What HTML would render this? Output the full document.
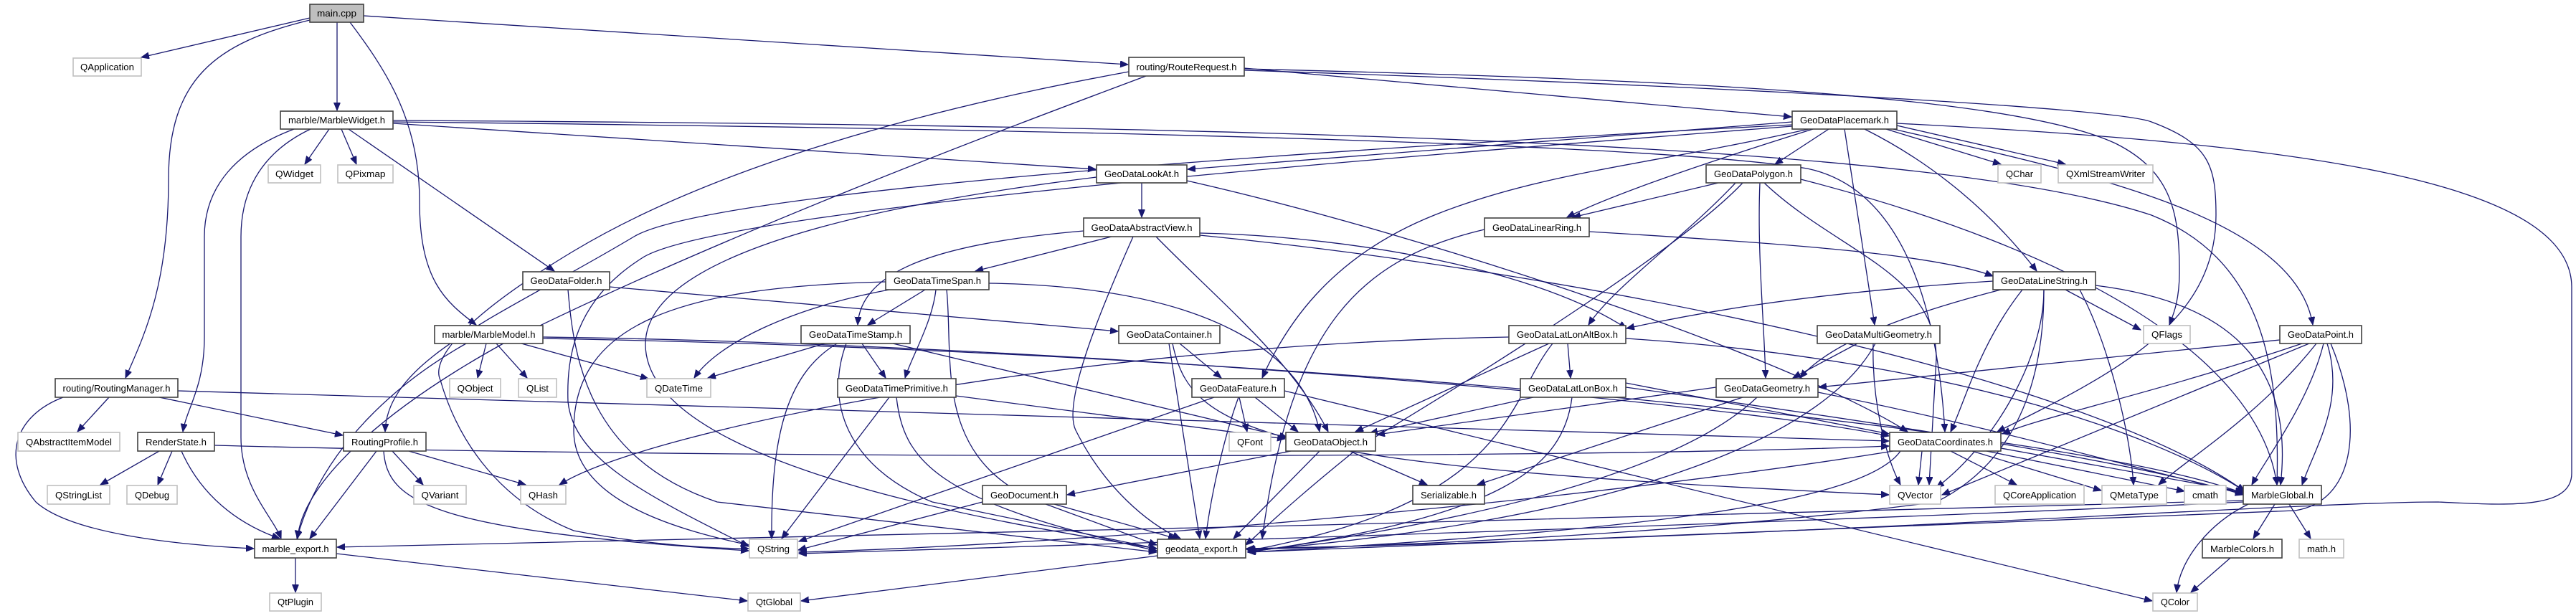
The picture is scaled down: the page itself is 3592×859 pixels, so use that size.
<!DOCTYPE html>
<html><head><meta charset="utf-8"><style>
html,body{margin:0;padding:0;background:#fff;}
svg{display:block;}
.e path{fill:none;stroke:#191970;stroke-width:1.3;}
.n rect{fill:#fff;stroke:#404040;stroke-width:1.6;}
.l rect{fill:#fff;stroke:#c0c0c0;stroke-width:1.6;}
text{font-family:"Liberation Sans",sans-serif;font-size:13px;fill:#000;text-anchor:middle;}
</style></head><body>
<svg width="3592" height="859" viewBox="0 0 3592 859" xmlns="http://www.w3.org/2000/svg">
<defs><marker id="a" markerUnits="userSpaceOnUse" markerWidth="12" markerHeight="10" refX="11" refY="4.5" orient="auto"><path d="M0,0 L11,4.5 L0,9 z" fill="#191970" stroke="#191970"/></marker></defs>
<g class="e" marker-end="url(#a)">
<path d="M432,25 L197,80"/>
<path d="M470,31 L470,154"/>
<path d="M507,22 L1573,90"/>
<path d="M432,28 C300,60 235,110 235,250 C235,400 200,470 175,527"/>
<path d="M488,31 C540,100 585,170 585,280 C585,390 620,420 664,453"/>
<path d="M459,180 L425,229"/>
<path d="M476,180 L497,229"/>
<path d="M486,180 L773,378"/>
<path d="M410,180 C330,210 285,260 285,330 L285,470 C285,540 260,570 255,602"/>
<path d="M433,180 C370,210 336,260 336,330 L336,610 C336,680 380,720 392,751"/>
<path d="M548,172 L1528,236"/>
<path d="M548,170 C1500,180 2300,200 2520,235 C2640,260 2700,400 2712,602"/>
<path d="M548,168 C1800,175 2700,200 3000,300 C3150,360 3180,500 3175,676"/>
<path d="M1735,95 L2498,163"/>
<path d="M1598,106 C1400,180 1000,330 700,480 C520,580 420,680 415,751"/>
<path d="M1574,100 C1300,150 1000,230 800,350 C650,440 600,500 614,530 C640,620 700,700 800,740 C900,760 1000,765 1044,765"/>
<path d="M1735,96 C2300,110 2800,130 2950,200 C3030,240 3039,300 3039,380 C3039,420 3030,440 3025,453"/>
<path d="M1735,98 C2400,120 2950,150 3000,170 C3080,200 3090,230 3090,300 C3090,450 2950,520 2785,602"/>
<path d="M2499,170 L1656,236"/>
<path d="M2550,180 L2475,229"/>
<path d="M2528,180 C2400,220 2250,270 2185,303"/>
<path d="M2396,255 L2193,303"/>
<path d="M2600,180 C2700,230 2780,300 2840,378"/>
<path d="M2572,180 L2614,453"/>
<path d="M2640,180 C2900,240 3200,300 3225,453"/>
<path d="M2630,180 L2790,229"/>
<path d="M2645,175 L2880,229"/>
<path d="M2522,180 C2300,230 2150,240 2000,300 C1850,360 1790,460 1760,527"/>
<path d="M2645,172 C3200,200 3585,250 3586,400 L3586,660 C3586,710 3500,705 3400,700 C3200,700 2500,750 1738,765"/>
<path d="M2499,174 C2000,200 1000,260 884,330 C700,440 540,500 537,602"/>
<path d="M2499,176 C2000,215 1000,290 895,360 C800,420 790,500 792,560 C800,640 900,690 1044,762"/>
<path d="M1592,255 L1592,303"/>
<path d="M1655,252 C2000,330 2500,500 2660,602"/>
<path d="M1529,247 C1100,300 900,380 900,480 C900,650 1400,730 1613,765"/>
<path d="M1550,330 L1360,378"/>
<path d="M1511,322 C1300,340 1200,380 1196,453"/>
<path d="M1612,330 C1700,420 1800,500 1852,602"/>
<path d="M1580,330 C1540,420 1480,560 1500,600 C1540,680 1600,730 1646,751"/>
<path d="M1673,325 C1900,330 2150,380 2268,458"/>
<path d="M1673,328 C2200,380 2900,520 3130,685"/>
<path d="M1290,404 L1210,453"/>
<path d="M1305,404 C1300,450 1270,500 1262,527"/>
<path d="M1240,404 C1100,430 1000,480 968,527"/>
<path d="M1379,395 C1700,400 1820,500 1840,602"/>
<path d="M1320,404 C1330,500 1300,640 1450,700 L1613,760"/>
<path d="M1235,393 C950,400 800,450 800,600 C800,700 950,740 1044,760"/>
<path d="M1150,479 L987,527"/>
<path d="M1202,479 L1235,527"/>
<path d="M1167,479 C1100,520 1075,600 1076,751"/>
<path d="M1180,479 C1150,560 1180,650 1300,700 L1613,765"/>
<path d="M1245,479 L1795,610"/>
<path d="M1240,554 L1090,751"/>
<path d="M1250,554 C1260,640 1300,700 1613,768"/>
<path d="M1333,552 L1792,612"/>
<path d="M678,479 L666,527"/>
<path d="M692,479 L735,527"/>
<path d="M727,479 L904,528"/>
<path d="M650,479 C560,530 450,620 414,751"/>
<path d="M757,470 C1500,480 2400,560 2634,608"/>
<path d="M757,472 C1800,490 2900,600 3128,688"/>
<path d="M152,554 L108,602"/>
<path d="M222,554 L478,607"/>
<path d="M88,554 C20,580 0,640 50,700 C100,745 250,760 354,765"/>
<path d="M248,545 L2634,615"/>
<path d="M222,629 L140,676"/>
<path d="M240,629 L220,676"/>
<path d="M253,629 C280,690 330,730 390,751"/>
<path d="M299,621 C1000,640 2200,640 2634,622"/>
<path d="M547,629 L590,676"/>
<path d="M570,629 L733,676"/>
<path d="M525,629 L432,751"/>
<path d="M535,629 C540,700 600,740 1044,768"/>
<path d="M850,400 L1559,462"/>
<path d="M792,404 C800,500 820,640 1000,700 L1613,770"/>
<path d="M1645,479 L1703,527"/>
<path d="M1630,479 L1673,751"/>
<path d="M1635,479 C1660,600 1750,650 2634,690"/>
<path d="M1728,554 L1739,602"/>
<path d="M1750,554 L1810,602"/>
<path d="M1727,554 C1710,600 1690,680 1681,751"/>
<path d="M1693,554 L1114,755"/>
<path d="M1791,545 L3001,838"/>
<path d="M1800,629 L1488,690"/>
<path d="M1882,629 L1990,676"/>
<path d="M1840,629 L1720,751"/>
<path d="M1370,700 L1113,767"/>
<path d="M1470,703 L1640,751"/>
<path d="M2420,255 C2350,330 2250,400 2215,453"/>
<path d="M2454,255 C2450,350 2460,450 2462,527"/>
<path d="M2430,255 C2350,340 2100,500 1900,620 C1800,700 1760,740 1737,760"/>
<path d="M2460,255 C2560,350 2700,380 2700,500 L2690,676"/>
<path d="M2511,250 C2900,350 3150,500 3175,676"/>
<path d="M2216,323 C2500,340 2700,355 2779,385"/>
<path d="M2070,320 C1900,360 1800,450 1760,751"/>
<path d="M2779,392 C2500,410 2350,440 2268,458"/>
<path d="M2790,404 C2650,440 2550,480 2510,527"/>
<path d="M2820,404 C2760,480 2740,560 2720,602"/>
<path d="M2880,404 L2985,460"/>
<path d="M2850,404 C2850,500 2780,620 2700,680"/>
<path d="M2900,404 C2940,480 2970,600 2975,676"/>
<path d="M2922,398 C3100,420 3200,500 3180,676"/>
<path d="M2850,404 C2850,550 2800,650 2700,700 C2400,740 2000,760 1738,766"/>
<path d="M2186,479 L2190,527"/>
<path d="M2160,479 L1890,602"/>
<path d="M2165,479 C2100,560 2110,700 1740,768"/>
<path d="M2104,470 C1500,480 900,600 780,676"/>
<path d="M2267,472 C2700,500 3000,600 3130,685"/>
<path d="M2138,554 L1910,604"/>
<path d="M2192,554 C2180,650 2100,720 1740,770"/>
<path d="M2267,534 L2634,605"/>
<path d="M2267,540 C2700,600 3000,650 3128,690"/>
<path d="M2393,540 L1920,606"/>
<path d="M2430,554 L2060,676"/>
<path d="M2450,554 C2350,650 2100,720 1740,770"/>
<path d="M2535,547 C2800,600 3000,660 3128,688"/>
<path d="M2590,479 L2500,527"/>
<path d="M2612,479 C2610,560 2630,640 2650,676"/>
<path d="M2615,479 C2550,600 2300,720 1740,768"/>
<path d="M3179,474 L2536,540"/>
<path d="M3210,479 C3000,550 2850,580 2792,605"/>
<path d="M3220,479 L2708,690"/>
<path d="M3230,479 C3150,580 3050,640 3010,676"/>
<path d="M3240,479 C3220,560 3160,640 3140,676"/>
<path d="M3245,479 C3270,560 3230,620 3210,676"/>
<path d="M3250,479 C3300,600 3280,700 3200,712 L1740,770"/>
<path d="M2680,629 L2675,676"/>
<path d="M2720,629 L2812,676"/>
<path d="M2750,629 L2930,684"/>
<path d="M2770,629 L3046,685"/>
<path d="M2790,625 L3128,686"/>
<path d="M2650,629 C2600,700 2300,740 1740,770"/>
<path d="M2640,629 C2200,700 1500,760 1114,770"/>
<path d="M3172,703 L3142,751"/>
<path d="M3192,703 L3222,751"/>
<path d="M3135,703 C3080,730 3040,780 3035,826"/>
<path d="M3128,698 C2500,720 1000,750 470,763"/>
<path d="M3128,700 C2500,730 1500,760 1114,772"/>
<path d="M3110,778 L3055,826"/>
<path d="M412,778 L412,826"/>
<path d="M469,772 L1042,838"/>
<path d="M1614,775 L1117,838"/>
</g>
<g class="n"><rect x="432" y="6" width="75" height="25" style="fill:#bfbfbf"/><text x="469.5" y="23" textLength="55" lengthAdjust="spacingAndGlyphs">main.cpp</text></g>
<g class="l"><rect x="102" y="81" width="95" height="25"/><text x="149.5" y="98" textLength="75" lengthAdjust="spacingAndGlyphs">QApplication</text></g>
<g class="n"><rect x="391" y="155" width="157" height="25"/><text x="469.5" y="172" textLength="135" lengthAdjust="spacingAndGlyphs">marble/MarbleWidget.h</text></g>
<g class="l"><rect x="374" y="230" width="73" height="25"/><text x="410.5" y="247" textLength="53" lengthAdjust="spacingAndGlyphs">QWidget</text></g>
<g class="l"><rect x="471" y="230" width="77" height="25"/><text x="509.5" y="247" textLength="56" lengthAdjust="spacingAndGlyphs">QPixmap</text></g>
<g class="n"><rect x="729" y="379" width="121" height="25"/><text x="789.5" y="396" textLength="100" lengthAdjust="spacingAndGlyphs">GeoDataFolder.h</text></g>
<g class="n"><rect x="606" y="454" width="151" height="25"/><text x="681.5" y="471" textLength="130" lengthAdjust="spacingAndGlyphs">marble/MarbleModel.h</text></g>
<g class="l"><rect x="627" y="528" width="71" height="26"/><text x="662.5" y="546" textLength="50" lengthAdjust="spacingAndGlyphs">QObject</text></g>
<g class="l"><rect x="723" y="528" width="53" height="26"/><text x="749.5" y="546" textLength="31" lengthAdjust="spacingAndGlyphs">QList</text></g>
<g class="n"><rect x="77" y="528" width="171" height="26"/><text x="162.5" y="546" textLength="150" lengthAdjust="spacingAndGlyphs">routing/RoutingManager.h</text></g>
<g class="l"><rect x="25" y="603" width="142" height="26"/><text x="96" y="621" textLength="120" lengthAdjust="spacingAndGlyphs">QAbstractItemModel</text></g>
<g class="n"><rect x="192" y="603" width="107" height="26"/><text x="245.5" y="621" textLength="85" lengthAdjust="spacingAndGlyphs">RenderState.h</text></g>
<g class="n"><rect x="479" y="603" width="115" height="26"/><text x="536.5" y="621" textLength="93" lengthAdjust="spacingAndGlyphs">RoutingProfile.h</text></g>
<g class="l"><rect x="66" y="677" width="87" height="26"/><text x="109.5" y="695" textLength="65" lengthAdjust="spacingAndGlyphs">QStringList</text></g>
<g class="l"><rect x="177" y="677" width="70" height="26"/><text x="212" y="695" textLength="48" lengthAdjust="spacingAndGlyphs">QDebug</text></g>
<g class="l"><rect x="577" y="677" width="73" height="26"/><text x="613.5" y="695" textLength="52" lengthAdjust="spacingAndGlyphs">QVariant</text></g>
<g class="l"><rect x="726" y="677" width="63" height="26"/><text x="757.5" y="695" textLength="41" lengthAdjust="spacingAndGlyphs">QHash</text></g>
<g class="n"><rect x="355" y="752" width="114" height="26"/><text x="412" y="770" textLength="93" lengthAdjust="spacingAndGlyphs">marble_export.h</text></g>
<g class="l"><rect x="376" y="827" width="72" height="25"/><text x="412" y="844" textLength="50" lengthAdjust="spacingAndGlyphs">QtPlugin</text></g>
<g class="n"><rect x="1574" y="80" width="161" height="26"/><text x="1654.5" y="98" textLength="140" lengthAdjust="spacingAndGlyphs">routing/RouteRequest.h</text></g>
<g class="n"><rect x="1529" y="230" width="126" height="25"/><text x="1592" y="247" textLength="104" lengthAdjust="spacingAndGlyphs">GeoDataLookAt.h</text></g>
<g class="n"><rect x="1511" y="304" width="162" height="26"/><text x="1592" y="322" textLength="141" lengthAdjust="spacingAndGlyphs">GeoDataAbstractView.h</text></g>
<g class="n"><rect x="1235" y="379" width="144" height="25"/><text x="1307" y="396" textLength="122" lengthAdjust="spacingAndGlyphs">GeoDataTimeSpan.h</text></g>
<g class="n"><rect x="1117" y="454" width="152" height="25"/><text x="1193" y="471" textLength="130" lengthAdjust="spacingAndGlyphs">GeoDataTimeStamp.h</text></g>
<g class="n"><rect x="1560" y="454" width="141" height="25"/><text x="1630.5" y="471" textLength="119" lengthAdjust="spacingAndGlyphs">GeoDataContainer.h</text></g>
<g class="l"><rect x="902" y="528" width="89" height="26"/><text x="946.5" y="546" textLength="67" lengthAdjust="spacingAndGlyphs">QDateTime</text></g>
<g class="n"><rect x="1168" y="528" width="165" height="26"/><text x="1250.5" y="546" textLength="143" lengthAdjust="spacingAndGlyphs">GeoDataTimePrimitive.h</text></g>
<g class="n"><rect x="1662" y="528" width="129" height="26"/><text x="1726.5" y="546" textLength="107" lengthAdjust="spacingAndGlyphs">GeoDataFeature.h</text></g>
<g class="l"><rect x="1714" y="603" width="58" height="26"/><text x="1743" y="621" textLength="36" lengthAdjust="spacingAndGlyphs">QFont</text></g>
<g class="n"><rect x="1370" y="677" width="117" height="26"/><text x="1428.5" y="695" textLength="95" lengthAdjust="spacingAndGlyphs">GeoDocument.h</text></g>
<g class="l"><rect x="1045" y="752" width="67" height="26"/><text x="1078.5" y="770" textLength="45" lengthAdjust="spacingAndGlyphs">QString</text></g>
<g class="n"><rect x="1614" y="752" width="123" height="26"/><text x="1675.5" y="770" textLength="101" lengthAdjust="spacingAndGlyphs">geodata_export.h</text></g>
<g class="l"><rect x="1043" y="827" width="73" height="25"/><text x="1079.5" y="844" textLength="51" lengthAdjust="spacingAndGlyphs">QtGlobal</text></g>
<g class="n"><rect x="2499" y="155" width="146" height="25"/><text x="2572" y="172" textLength="124" lengthAdjust="spacingAndGlyphs">GeoDataPlacemark.h</text></g>
<g class="n"><rect x="2379" y="230" width="132" height="25"/><text x="2445" y="247" textLength="110" lengthAdjust="spacingAndGlyphs">GeoDataPolygon.h</text></g>
<g class="n"><rect x="2070" y="304" width="146" height="26"/><text x="2143" y="322" textLength="124" lengthAdjust="spacingAndGlyphs">GeoDataLinearRing.h</text></g>
<g class="n"><rect x="2104" y="454" width="163" height="25"/><text x="2185.5" y="471" textLength="141" lengthAdjust="spacingAndGlyphs">GeoDataLatLonAltBox.h</text></g>
<g class="n"><rect x="2534" y="454" width="171" height="25"/><text x="2619.5" y="471" textLength="149" lengthAdjust="spacingAndGlyphs">GeoDataMultiGeometry.h</text></g>
<g class="n"><rect x="2120" y="528" width="147" height="26"/><text x="2193.5" y="546" textLength="125" lengthAdjust="spacingAndGlyphs">GeoDataLatLonBox.h</text></g>
<g class="n"><rect x="2393" y="528" width="142" height="26"/><text x="2464" y="546" textLength="120" lengthAdjust="spacingAndGlyphs">GeoDataGeometry.h</text></g>
<g class="n"><rect x="1793" y="603" width="125" height="26"/><text x="1855.5" y="621" textLength="103" lengthAdjust="spacingAndGlyphs">GeoDataObject.h</text></g>
<g class="n"><rect x="1970" y="677" width="100" height="26"/><text x="2020" y="695" textLength="78" lengthAdjust="spacingAndGlyphs">Serializable.h</text></g>
<g class="n"><rect x="2635" y="603" width="155" height="26"/><text x="2712.5" y="621" textLength="133" lengthAdjust="spacingAndGlyphs">GeoDataCoordinates.h</text></g>
<g class="l"><rect x="2635" y="677" width="71" height="26"/><text x="2670.5" y="695" textLength="49" lengthAdjust="spacingAndGlyphs">QVector</text></g>
<g class="l"><rect x="2786" y="230" width="60" height="25"/><text x="2816" y="247" textLength="38" lengthAdjust="spacingAndGlyphs">QChar</text></g>
<g class="l"><rect x="2870" y="230" width="132" height="25"/><text x="2936" y="247" textLength="110" lengthAdjust="spacingAndGlyphs">QXmlStreamWriter</text></g>
<g class="n"><rect x="2779" y="379" width="143" height="25"/><text x="2850.5" y="396" textLength="121" lengthAdjust="spacingAndGlyphs">GeoDataLineString.h</text></g>
<g class="l"><rect x="2989" y="454" width="65" height="25"/><text x="3021.5" y="471" textLength="43" lengthAdjust="spacingAndGlyphs">QFlags</text></g>
<g class="n"><rect x="3179" y="454" width="114" height="25"/><text x="3236" y="471" textLength="92" lengthAdjust="spacingAndGlyphs">GeoDataPoint.h</text></g>
<g class="l"><rect x="2782" y="677" width="124" height="26"/><text x="2844" y="695" textLength="102" lengthAdjust="spacingAndGlyphs">QCoreApplication</text></g>
<g class="l"><rect x="2931" y="677" width="90" height="26"/><text x="2976" y="695" textLength="68" lengthAdjust="spacingAndGlyphs">QMetaType</text></g>
<g class="l"><rect x="3046" y="677" width="58" height="26"/><text x="3075" y="695" textLength="36" lengthAdjust="spacingAndGlyphs">cmath</text></g>
<g class="n"><rect x="3128" y="677" width="109" height="26"/><text x="3182.5" y="695" textLength="87" lengthAdjust="spacingAndGlyphs">MarbleGlobal.h</text></g>
<g class="n"><rect x="3071" y="752" width="111" height="26"/><text x="3126.5" y="770" textLength="89" lengthAdjust="spacingAndGlyphs">MarbleColors.h</text></g>
<g class="l"><rect x="3206" y="752" width="62" height="26"/><text x="3237" y="770" textLength="40" lengthAdjust="spacingAndGlyphs">math.h</text></g>
<g class="l"><rect x="3002" y="827" width="62" height="25"/><text x="3033" y="844" textLength="40" lengthAdjust="spacingAndGlyphs">QColor</text></g>
</svg>
</body></html>
